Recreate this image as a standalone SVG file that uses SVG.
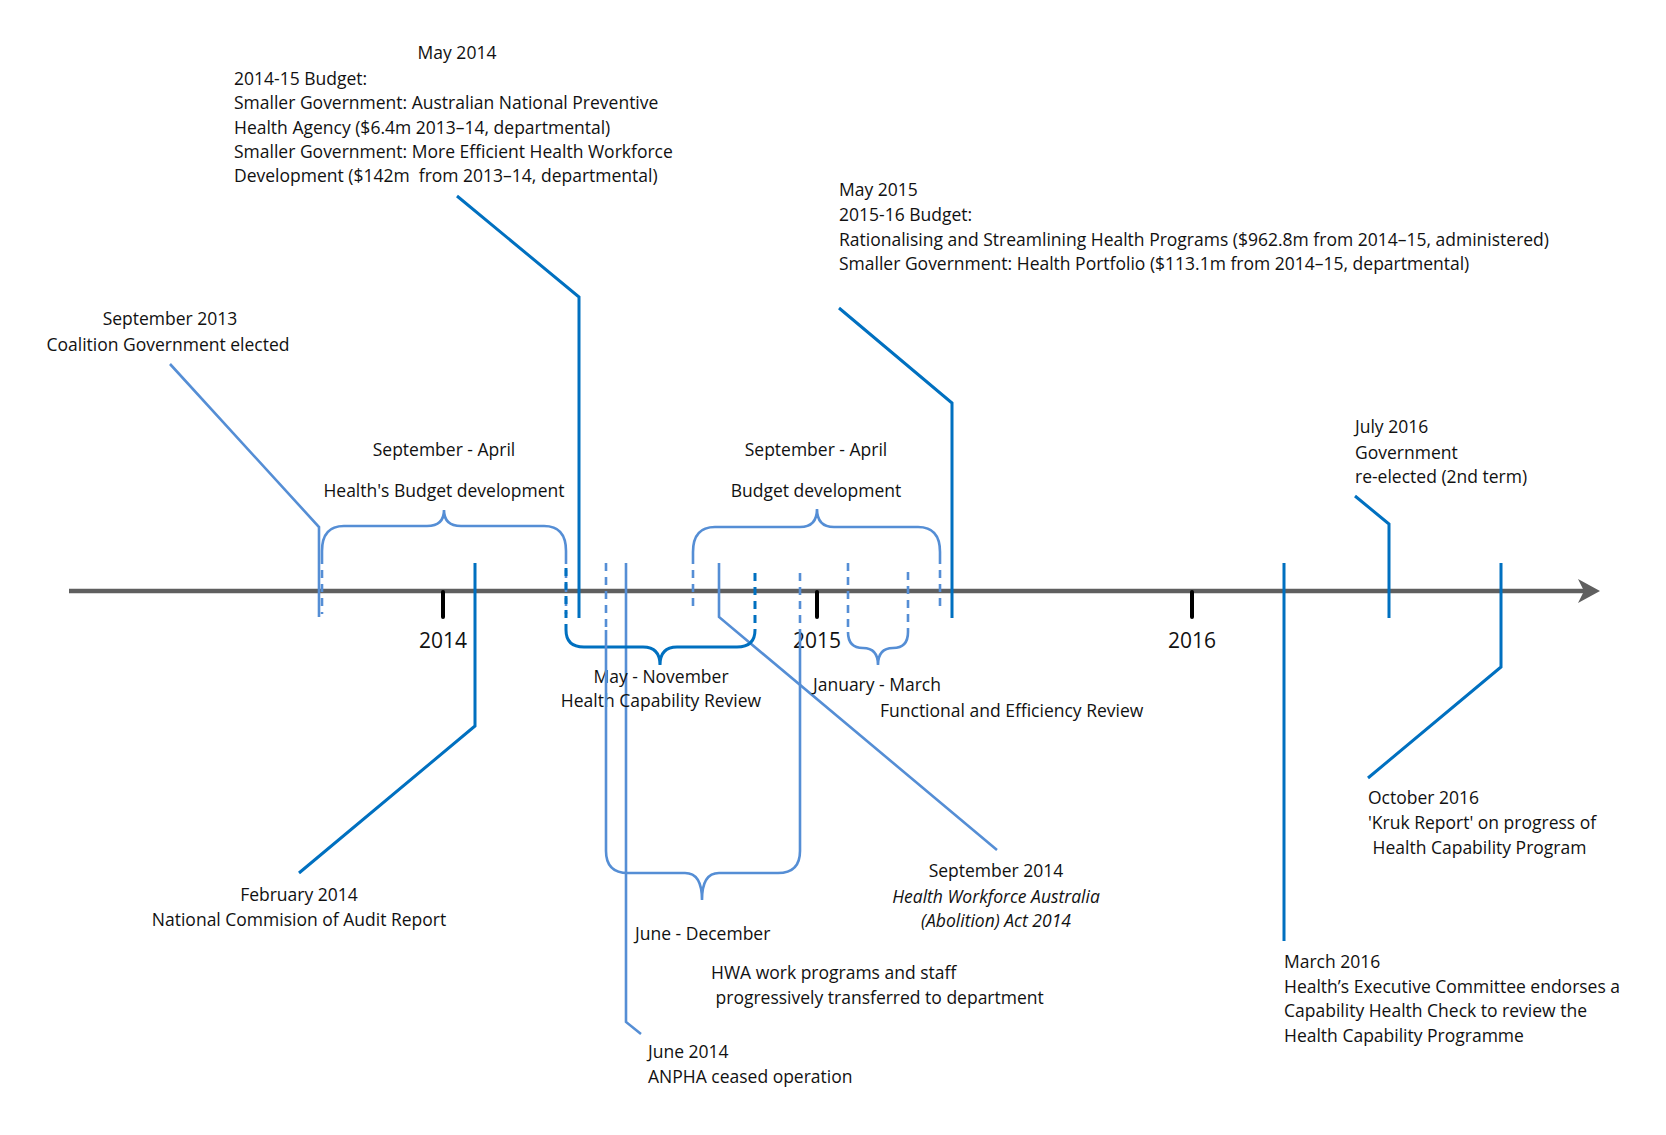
<svg xmlns="http://www.w3.org/2000/svg" width="1666" height="1135" viewBox="0 0 1666 1135">
<style>
text{font-family:"Open Sans","Liberation Sans",Arial,sans-serif;font-size:17.5px;fill:#111}
.c{text-anchor:middle}
.i{font-style:italic}
.yr{font-size:21px;text-anchor:middle}
.dk{fill:none;stroke:#0070C0;stroke-width:3}
.lt{fill:none;stroke:#558ED5;stroke-width:2.6}
.ds{stroke-dasharray:8 6}
</style>
<rect width="1666" height="1135" fill="#fff"/>
<g id="axis">
<line x1="69" y1="591" x2="1586" y2="591" stroke="#5f5f5f" stroke-width="4.5"/>
<polygon points="1600,591 1578,579 1584,591 1578,603" fill="#5f5f5f"/>
<g stroke="#000" stroke-width="4" stroke-linecap="round">
<line x1="443" y1="592" x2="443" y2="617"/>
<line x1="817" y1="592" x2="817" y2="617"/>
<line x1="1192" y1="592" x2="1192" y2="617"/>
</g>
<text class="yr" x="443" y="648">2014</text>
<text class="yr" x="817" y="648">2015</text>
<text class="yr" x="1192" y="648">2016</text>
</g>
<g id="connectors">
<polyline class="lt" points="170,364 319,527 319,617"/>
<polyline class="dk" points="457,196 579,297 579,618"/>
<polyline class="dk" points="475,563 475,726 299,873"/>
<polyline class="lt" points="626,563 626,1022 641,1034"/>
<polyline class="lt" points="719,563 719,617 997,850"/>
<polyline class="dk" points="839,308 952,403 952,618"/>
<line class="dk" x1="1284" y1="563" x2="1284" y2="941"/>
<polyline class="dk" points="1355,496 1389,524 1389,618"/>
<polyline class="dk" points="1501,563 1501,667 1368,778"/>
</g>
<g id="brace-health-budget">
<path class="lt" d="M322,556 V551 Q322,526 344,526 H427 Q444,526 444,510 Q444,526 461,526 H544 Q566,526 566,551 V556"/>
<line class="lt ds" x1="322" y1="556" x2="322" y2="614"/>
<line class="lt ds" x1="566" y1="556" x2="566" y2="614"/>
<text class="c" x="444" y="456">September - April</text>
<text class="c" x="444" y="497">Health's Budget development</text>
</g>
<g id="brace-budget-dev">
<path class="lt" d="M693,556 V552 Q693,527 715,527 H800 Q817,527 817,509 Q817,527 834,527 H918 Q940,527 940,552 V556"/>
<line class="lt ds" x1="693" y1="556" x2="693" y2="612"/>
<line class="lt ds" x1="940" y1="556" x2="940" y2="612"/>
<text class="c" x="816" y="456">September - April</text>
<text class="c" x="816" y="497">Budget development</text>
</g>
<g id="brace-may-nov">
<line class="dk ds" x1="566" y1="568" x2="566" y2="630"/>
<line class="dk ds" x1="755" y1="573" x2="755" y2="630"/>
<path class="dk" d="M566,630 Q566,647 584,647 H643 Q660,647 660,665 Q660,647 677,647 H737 Q755,647 755,630"/>
<text class="c" x="661" y="683">May - November</text>
<text class="c" x="661" y="707">Health Capability Review</text>
</g>
<g id="brace-june-dec">
<line class="lt ds" x1="606" y1="563" x2="606" y2="630"/>
<line class="lt ds" x1="800" y1="573" x2="800" y2="630"/>
<path class="lt" d="M606,630 V851 Q606,873 628,873 H685 Q702,873 702,900 Q702,873 719,873 H778 Q800,873 800,851 V630"/>
<text x="635" y="940">June - December</text>
<text x="711" y="979">HWA work programs and staff</text>
<text x="711" y="1004" xml:space="preserve"> progressively transferred to department</text>
</g>
<g id="brace-jan-mar">
<line class="lt ds" x1="848" y1="563" x2="848" y2="632"/>
<line class="lt ds" x1="908" y1="572" x2="908" y2="632"/>
<path class="lt" d="M848,632 Q848,648 863,648 Q878,648 878,665 Q878,648 893,648 Q908,648 908,632"/>
<text x="813" y="691">January - March</text>
<text x="880" y="717">Functional and Efficiency Review</text>
</g>
<g id="sep-2013">
<text class="c" x="170" y="325">September 2013</text>
<text class="c" x="168" y="351">Coalition Government elected</text>
</g>
<g id="may-2014">
<text class="c" x="457" y="59">May 2014</text>
<text x="234" y="85">2014-15 Budget:</text>
<text x="234" y="109">Smaller Government: Australian National Preventive</text>
<text x="234" y="134">Health Agency ($6.4m 2013–14, departmental)</text>
<text x="234" y="158">Smaller Government: More Efficient Health Workforce</text>
<text x="234" y="182" xml:space="preserve">Development ($142m  from 2013–14, departmental)</text>
</g>
<g id="feb-2014">
<text class="c" x="299" y="901">February 2014</text>
<text class="c" x="299" y="926">National Commision of Audit Report</text>
</g>
<g id="june-2014">
<text x="648" y="1058">June 2014</text>
<text x="648" y="1083">ANPHA ceased operation</text>
</g>
<g id="sep-2014">
<text class="c" x="996" y="877">September 2014</text>
<text class="c i" x="996" y="903">Health Workforce Australia</text>
<text class="c i" x="996" y="927">(Abolition) Act 2014</text>
</g>
<g id="may-2015">
<text x="839" y="196">May 2015</text>
<text x="839" y="221">2015-16 Budget:</text>
<text x="839" y="246">Rationalising and Streamlining Health Programs ($962.8m from 2014–15, administered)</text>
<text x="839" y="270">Smaller Government: Health Portfolio ($113.1m from 2014–15, departmental)</text>
</g>
<g id="mar-2016">
<text x="1284" y="968">March 2016</text>
<text x="1284" y="993">Health’s Executive Committee endorses a</text>
<text x="1284" y="1017">Capability Health Check to review the</text>
<text x="1284" y="1042">Health Capability Programme</text>
</g>
<g id="jul-2016">
<text x="1355" y="433">July 2016</text>
<text x="1355" y="459">Government</text>
<text x="1355" y="483">re-elected (2nd term)</text>
</g>
<g id="oct-2016">
<text x="1368" y="804">October 2016</text>
<text x="1368" y="829">'Kruk Report' on progress of</text>
<text x="1368" y="854" xml:space="preserve"> Health Capability Program</text>
</g>
</svg>
